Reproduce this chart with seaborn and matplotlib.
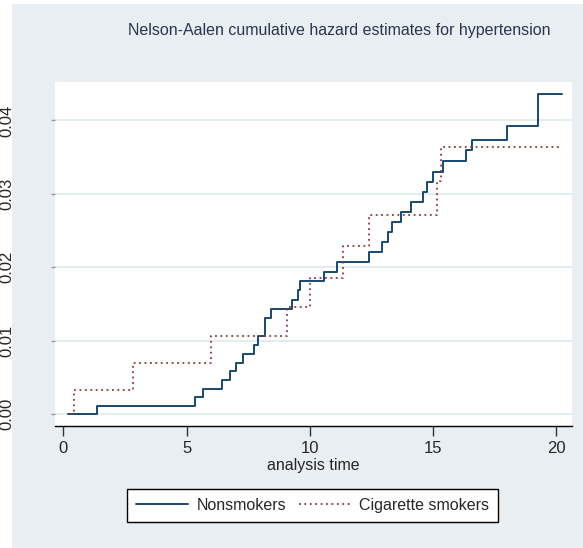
import matplotlib
matplotlib.use("Agg")
import matplotlib.pyplot as plt
from matplotlib.patches import Rectangle
import seaborn as sns
import pandas as pd

# Step data (time, cumulative hazard)
non_time = [0.2, 1.35, 5.34, 5.65, 6.42, 6.76, 6.99, 7.28, 7.75, 7.91, 8.18, 8.43,
            9.27, 9.52, 9.59, 10.58, 11.09, 12.41, 12.93, 13.16, 13.33, 13.69,
            14.09, 14.59, 14.75, 15.01, 15.41, 16.34, 16.58, 18.0, 19.24, 20.24]
non_haz = [0.0, 0.0011, 0.00227, 0.0034, 0.00463, 0.0058, 0.0070, 0.0082, 0.0094,
           0.01063, 0.0131, 0.01435, 0.0156, 0.01685, 0.01816, 0.0194, 0.02075,
           0.02207, 0.02343, 0.0248, 0.02616, 0.02752, 0.02888, 0.03025, 0.03165,
           0.033, 0.0345, 0.0359, 0.03733, 0.03928, 0.0436, 0.0436]
cig_time = [0.3, 0.43, 2.83, 6.0, 9.09, 10.0, 11.33, 12.4, 15.17, 15.33, 20.24]
cig_haz = [0.0, 0.00327, 0.0069, 0.01063, 0.01453, 0.01853, 0.02284, 0.02707,
           0.0318, 0.03633, 0.03633]

x_ticks = [0, 5, 10, 15, 20]
y_ticks = [0.00, 0.01, 0.02, 0.03, 0.04]

bg = "#e8eef1"
sns.set_style("white")
plt.rcParams["font.family"] = ["Liberation Sans", "DejaVu Sans"]

fig = plt.figure(figsize=(5.83, 5.48), dpi=100, facecolor="white")
# graph region background (white margin on the left and top edges)
fig.patches.append(Rectangle((12 / 583, 0), 1 - 12 / 583, 1 - 4 / 548,
                             transform=fig.transFigure, facecolor=bg,
                             edgecolor="none", zorder=-10))

ax = fig.add_axes([55 / 583, 1 - 426 / 548, 517 / 583, 344 / 548])
ax.set_facecolor("white")

non_df = pd.DataFrame({"t": non_time, "h": non_haz})
cig_df = pd.DataFrame({"t": cig_time, "h": cig_haz})

sns.lineplot(data=non_df, x="t", y="h", ax=ax, estimator=None, sort=False,
             drawstyle="steps-post", color="#1a476f", linewidth=1.4,
             label="Nonsmokers")
sns.lineplot(data=cig_df, x="t", y="h", ax=ax, estimator=None, sort=False,
             drawstyle="steps-post", color="#90353b", linewidth=1.3,
             linestyle=(0, (1, 2)), label="Cigarette smokers")

ax.set_xlim(-0.34, 20.64)
ax.set_ylim(-0.00163, 0.04523)
ax.set_xticks(x_ticks)
ax.set_yticks(y_ticks)
ax.set_yticklabels([f"{v:.2f}" for v in y_ticks], rotation=90, va="center")
ax.grid(axis="y", color="#e4ecf0", linewidth=1.5)
ax.grid(axis="x", visible=False)

for side in ["top", "right", "left"]:
    ax.spines[side].set_visible(False)
ax.spines["bottom"].set_color("black")
ax.spines["bottom"].set_linewidth(1.0)

ax.tick_params(axis="x", direction="out", length=7, width=1, color="#333333",
               labelsize=12, pad=4, bottom=True)
ax.tick_params(axis="y", direction="out", length=3, width=1, color="#999999",
               labelsize=12, pad=26, left=True)

ax.set_xlabel("analysis time", fontsize=11.5, labelpad=1.5)
ax.set_ylabel("")

fig.text(0.582, 1 - 30 / 548, "Nelson-Aalen cumulative hazard estimates for hypertension",
         ha="center", va="center", fontsize=11.5, color="#2b3550")

ax.get_legend().remove()
leg = fig.legend(*ax.get_legend_handles_labels(), loc="center",
                 bbox_to_anchor=(312.5 / 583, 1 - 505.5 / 548), ncol=2,
                 frameon=True, fancybox=False, edgecolor="black",
                 facecolor="white", fontsize=11.5, handlelength=3.3,
                 handletextpad=0.5, columnspacing=0.8, borderpad=0.55,
                 borderaxespad=0)
leg.get_frame().set_linewidth(1.0)
leg.get_frame().set_alpha(1)

fig.savefig("out.png", dpi=100, facecolor="white")
